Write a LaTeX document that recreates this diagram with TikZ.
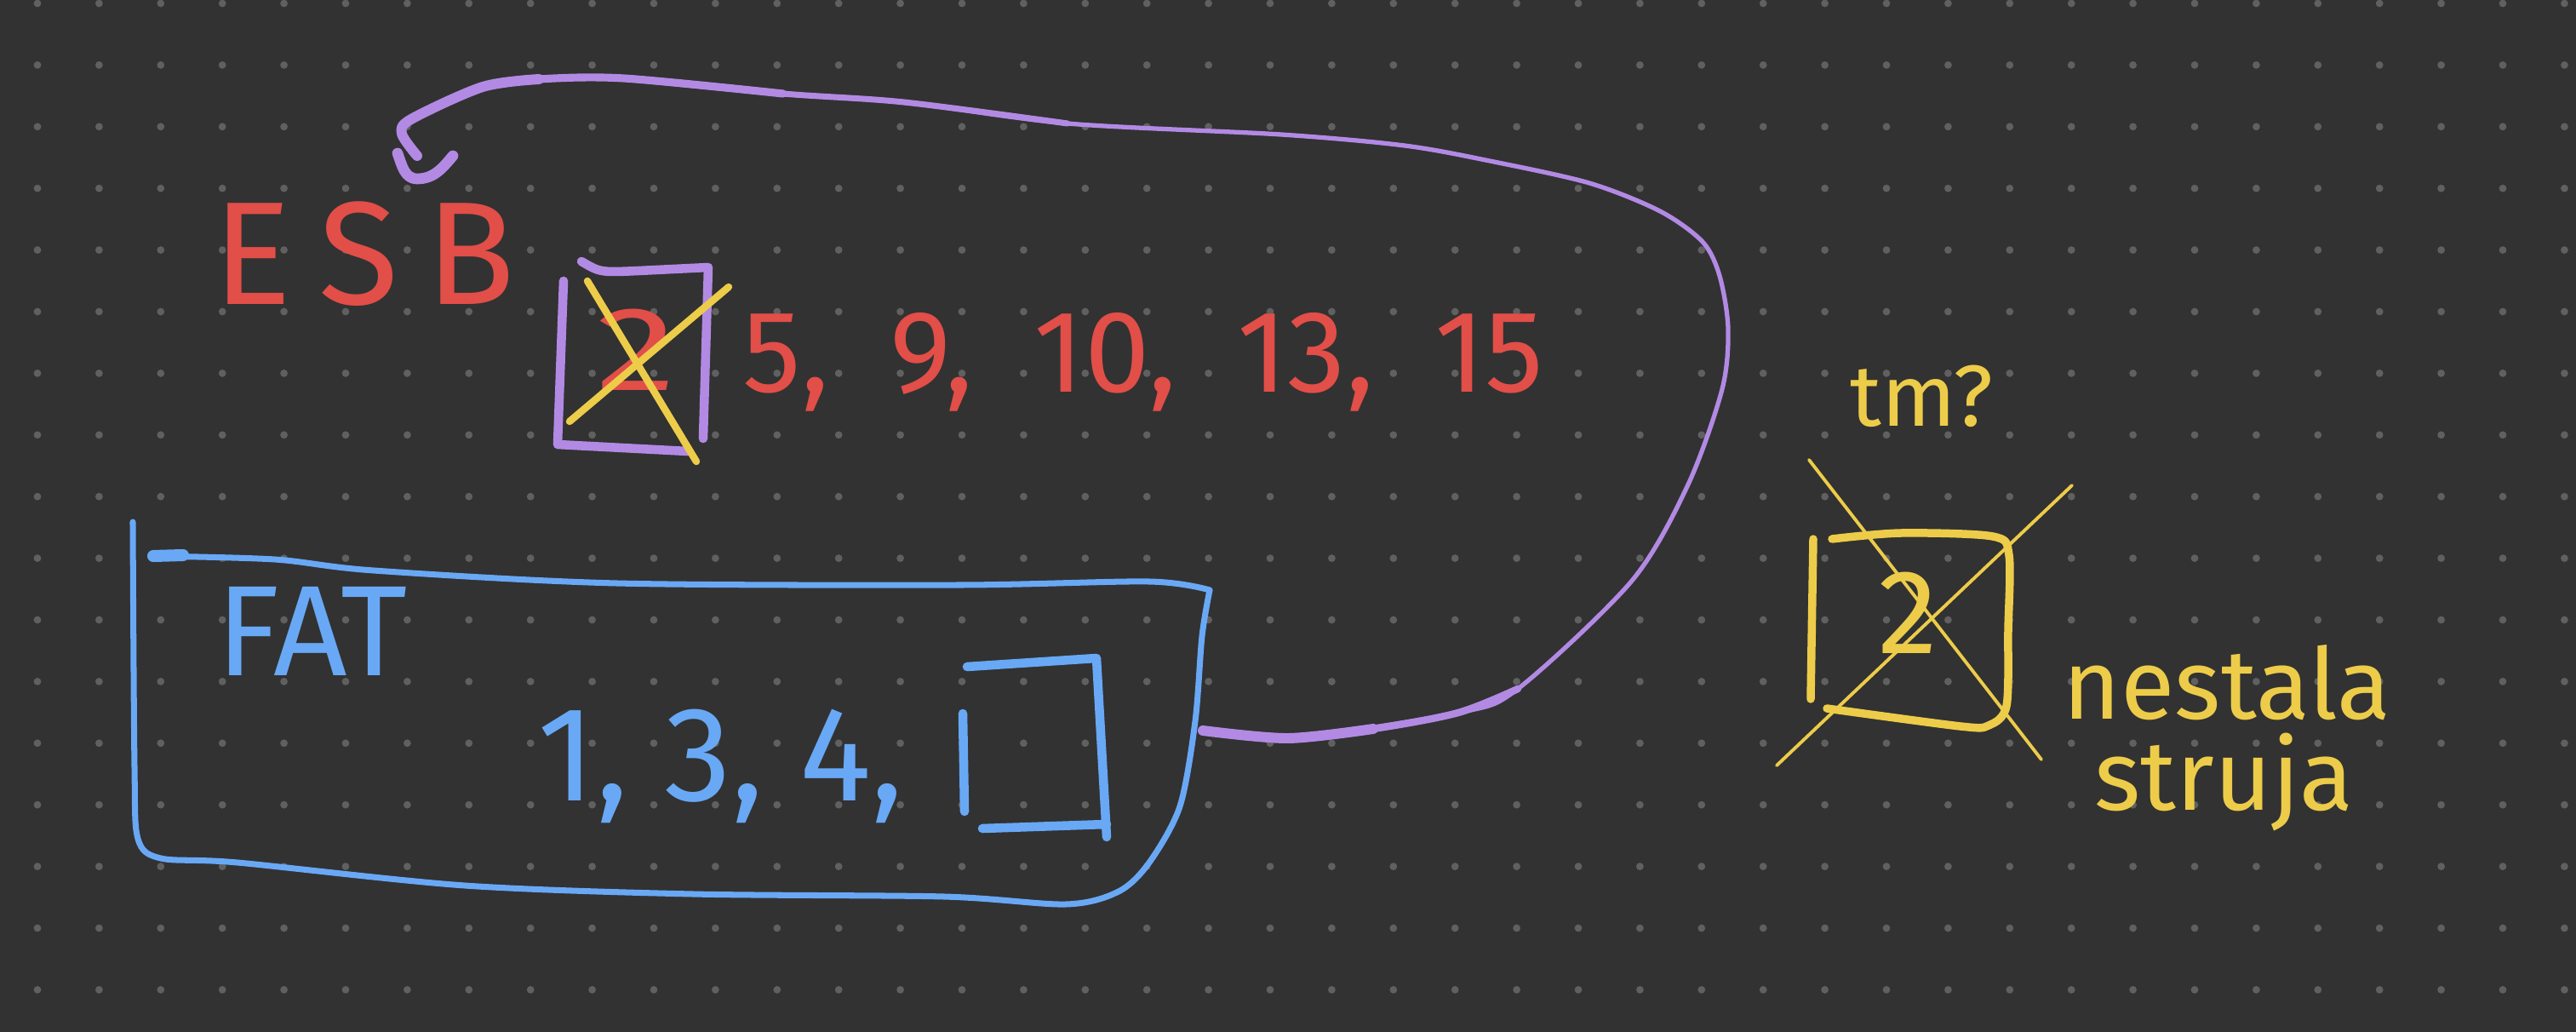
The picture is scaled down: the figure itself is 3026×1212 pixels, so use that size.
\documentclass[tikz,border=0pt]{standalone}
\usepackage{fontspec}
\setmainfont{Fira Sans}
\usetikzlibrary{positioning}
\definecolor{board}{RGB}{50,50,50}
\definecolor{dotgray}{RGB}{96,96,96}
\definecolor{inkred}{RGB}{226,78,72}
\definecolor{inkpurple}{RGB}{178,138,228}
\definecolor{inkblue}{RGB}{105,168,245}
\definecolor{inkyellow}{RGB}{237,204,74}
\begin{document}
\begin{tikzpicture}[x=0.01cm,y=-0.01cm,line cap=round,line join=round,
hand/.style={inner sep=0pt,anchor=base west},
pen/.style={line width=#1}
]
\fill[board] (0,0) rectangle (3026,1212);
\useasboundingbox (0,0) rectangle (3026,1212);
\foreach \i in {0,...,41}
  \foreach \j in {0,...,16}
    \fill[dotgray] (44+72.4*\i,4+72.4*\j) circle (1.25pt);
% ESB
\node[hand,text=inkred,font=\fontsize{49pt}{49pt}\selectfont] (esb) at (250,357) {E\hspace{9pt}S\hspace{9pt}B};
\node[hand,text=inkred,font=\fontsize{40pt}{40pt}\selectfont] (oldblock) at (700,458) {\scalebox{1.35}[1]{2}};
\node[hand,text=inkred,font=\fontsize{39pt}{39pt}\selectfont] (esbnums) at (872,460) {5, \hspace{10pt}9, \hspace{10pt}10, \hspace{10pt}13, \hspace{10pt}15};
\draw[inkpurple,pen=3pt] (683,307) .. controls (705,320) .. (750,318) -- (832,314) -- (826,515);
\draw[inkpurple,pen=3pt] (662,330) -- (655,522) -- (808,530);
\draw[inkyellow,pen=2.4pt] (690,330) -- (818,542);
\draw[inkyellow,pen=2.4pt] (856,337) -- (669,495);
% FAT
\node[hand,text=inkblue,font=\fontsize{43pt}{43pt}\selectfont] (fat) at (254,793) {FAT};
\node[hand,text=inkblue,font=\fontsize{45pt}{45pt}\selectfont] (fatnums) at (631,940) {1, 3, 4,};
\draw[inkblue,pen=3pt] (1131,838) -- (1133,953);
\draw[inkblue,pen=3pt] (1136,783) -- (1288,773) -- (1300,983);
\draw[inkblue,pen=3pt] (1154,973) -- (1300,968);
\draw[inkblue,pen=2pt] plot[smooth] coordinates {(180,653) (323,657) (439,670) (725,685) (1127,687) (1350,683) (1421,693)};
\draw[inkblue,pen=2pt] plot[smooth] coordinates {(1421,693) (1412,747) (1404,847) (1386,947) (1350,1013) (1314,1047) (1252,1062) (1109,1053) (814,1050) (546,1040) (279,1013) (189,1008) (162,985) (158,900) (156,613)};
\draw[inkblue,pen=4pt] (180,653) -- (215,652);
% link back to ESB
\coordinate (fatout) at (1413,858);
\coordinate (esbin) at (490,183);
\draw[inkpurple,pen=1.5pt] plot[smooth] coordinates {(fatout) (1513,867) (1713,837) (1783,809) (1917,682) (1983,569) (2023,457) (2030,386) (2020,324) (2000,284) (1950,248) (1867,215) (1750,189) (1650,171) (1505,158) (1254,145) (1062,120) (920,110) (733,92) (633,93) (567,102) (483,140) (472,157) (esbin)};
\draw[inkpurple,pen=3.4pt] plot[smooth] coordinates {(fatout) (1513,867) (1613,856)};
\draw[inkpurple,pen=2.4pt] plot[smooth] coordinates {(1513,867) (1613,856) (1713,837) (1783,809)};
\draw[inkpurple,pen=2pt] plot[smooth] coordinates {(1254,145) (1062,120) (920,110) (733,92)};
\draw[inkpurple,pen=2.6pt] plot[smooth] coordinates {(920,110) (733,92) (633,93) (567,102)};
\draw[inkpurple,pen=3.4pt] plot[smooth] coordinates {(633,93) (567,102) (483,140) (472,157) (esbin)};
\draw[inkpurple,pen=3.6pt] (467,180) to[out=-70,in=180] (490,210) to[out=0,in=-130] (532,183);
% power loss
\node[hand,text=inkyellow,font=\fontsize{29pt}{29pt}\selectfont] (tmq) at (2173,500) {tm?};
\node[hand,text=inkyellow,font=\fontsize{40pt}{40pt}\selectfont] (lostblock) at (2206,767) {2};
\draw[inkyellow,pen=2.7pt] (2130,633) -- (2127,821);
\draw[inkyellow,pen=2.7pt] plot[smooth] coordinates {(2152,633) (2233,626) (2341,630) (2360,652) (2359,740) (2357,829) (2336,852) (2303,853) (2146,832)};
\draw[inkyellow,pen=1.1pt] (2125,540) -- (2398,892);
\draw[inkyellow,pen=1.1pt] (2434,570) -- (2087,899);
\node[hand,text=inkyellow,font=\fontsize{33pt}{33pt}\selectfont] (nestala) at (2423,844) {nestala};
\node[hand,text=inkyellow,font=\fontsize{33pt}{33pt}\selectfont] (struja) at (2460,951) {struja};
\end{tikzpicture}
\end{document}
